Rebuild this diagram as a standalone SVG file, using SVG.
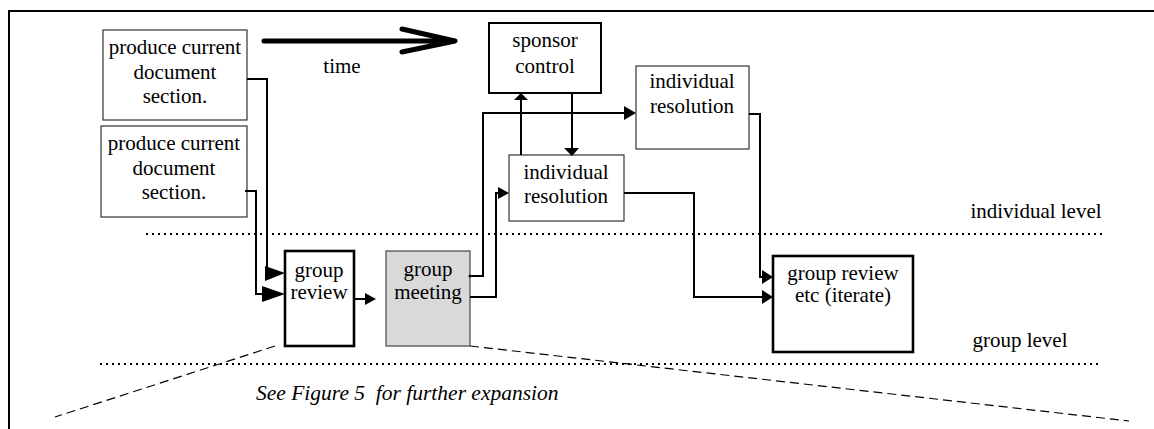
<svg xmlns="http://www.w3.org/2000/svg" width="1154" height="429" viewBox="0 0 1154 429">
<style>
text{font-family:'Liberation Serif','DejaVu Serif',serif;font-size:21px;fill:#000;text-anchor:middle}
.it{font-style:italic;text-anchor:start;font-size:21.5px}
.thin{fill:#fff;stroke:#333;stroke-width:1.2}
.thick{fill:#fff;stroke:#000;stroke-width:2.6}
.gray{fill:#d9d9d9;stroke:#444;stroke-width:1.2}
.c{fill:none;stroke:#000;stroke-width:2}
.ah{fill:#000;stroke:none}
.dot{stroke:#000;stroke-width:2;stroke-dasharray:2 4}
.dash{stroke:#000;stroke-width:1.2;stroke-dasharray:9 5;fill:none}
</style>
<rect width="1154" height="429" fill="#fff"/>
<path d="M9,429 V11 H1154" fill="none" stroke="#000" stroke-width="2"/>

<g id="time-arrow">
<path d="M264,41 H453 M402,29 L455,41 L402,52" fill="none" stroke="#000" stroke-width="5" stroke-linecap="round" stroke-linejoin="round"/>
<text x="342" y="73">time</text>
</g>

<g id="levels">
<line x1="146" y1="234" x2="1102" y2="234" class="dot"/>
<line x1="100" y1="364" x2="1102" y2="364" class="dot"/>
<text x="1036" y="218">individual level</text>
<text x="1020" y="347">group level</text>
<path class="dash" d="M275,346 L55,417"/>
<path class="dash" d="M470,346 L1129,421"/>
<text x="256" y="400" class="it" xml:space="preserve">See Figure 5  for further expansion</text>
</g>

<g id="produce1">
<rect class="thin" x="103" y="30" width="144" height="90"/>
<text x="175" y="54">produce current</text>
<text x="175" y="79">document</text>
<text x="175" y="103">section.</text>
</g>

<g id="produce2">
<rect class="thin" x="101" y="126" width="146" height="91"/>
<text x="174" y="150">produce current</text>
<text x="174" y="175">document</text>
<text x="174" y="199">section.</text>
</g>

<g id="sponsor">
<rect class="thick" x="489" y="23" width="112" height="70" style="stroke-width:2"/>
<text x="545" y="47">sponsor</text>
<text x="545" y="73">control</text>
</g>

<g id="indiv-upper">
<rect class="thin" x="636" y="66" width="113" height="83"/>
<text x="692" y="88">individual</text>
<text x="692" y="113">resolution</text>
</g>

<g id="indiv-middle">
<rect class="thin" x="509" y="155" width="115" height="66"/>
<text x="566" y="179">individual</text>
<text x="566" y="203">resolution</text>
</g>

<g id="group-review">
<rect class="thick" x="285" y="251" width="69" height="95"/>
<text x="319" y="277">group</text>
<text x="319" y="299">review</text>
</g>

<g id="group-meeting">
<rect class="gray" x="386" y="251" width="84" height="95"/>
<text x="428" y="276">group</text>
<text x="428" y="299">meeting</text>
</g>

<g id="group-review-etc">
<rect class="thick" x="773" y="256" width="140" height="96"/>
<text x="843" y="280">group review</text>
<text x="843" y="302">etc (iterate)</text>
</g>

<g id="connectors">
<path class="c" d="M247,79 H267 V273 H270"/>
<polygon class="ah" points="265,266 285,273 265,281"/>
<path class="c" d="M245,191 H256 V294 H265"/>
<polygon class="ah" points="262,286 285,294 262,302"/>
<path class="c" d="M354,299 H367"/>
<polygon class="ah" points="365,293 376,299 365,305"/>
<path class="c" d="M470,276 H483 V113 H626"/>
<circle cx="470" cy="276" r="1.5" class="ah"/>
<polygon class="ah" points="624,106 636,113 624,120"/>
<path class="c" d="M470,297 H496 V193 H500"/>
<polygon class="ah" points="498,187 509,193 498,199"/>
<path class="c" d="M521,155 V99"/>
<polygon class="ah" points="514,100 521,93 528,100"/>
<path class="c" d="M572,93 V150"/>
<polygon class="ah" points="564,148 572,156 579,148"/>
<path class="c" d="M624,193 H694 V297 H764"/>
<polygon class="ah" points="762,290 773,297 762,304"/>
<path class="c" d="M749,114 H760 V277 H764"/>
<polygon class="ah" points="762,270 773,277 762,284"/>
</g>
</svg>
